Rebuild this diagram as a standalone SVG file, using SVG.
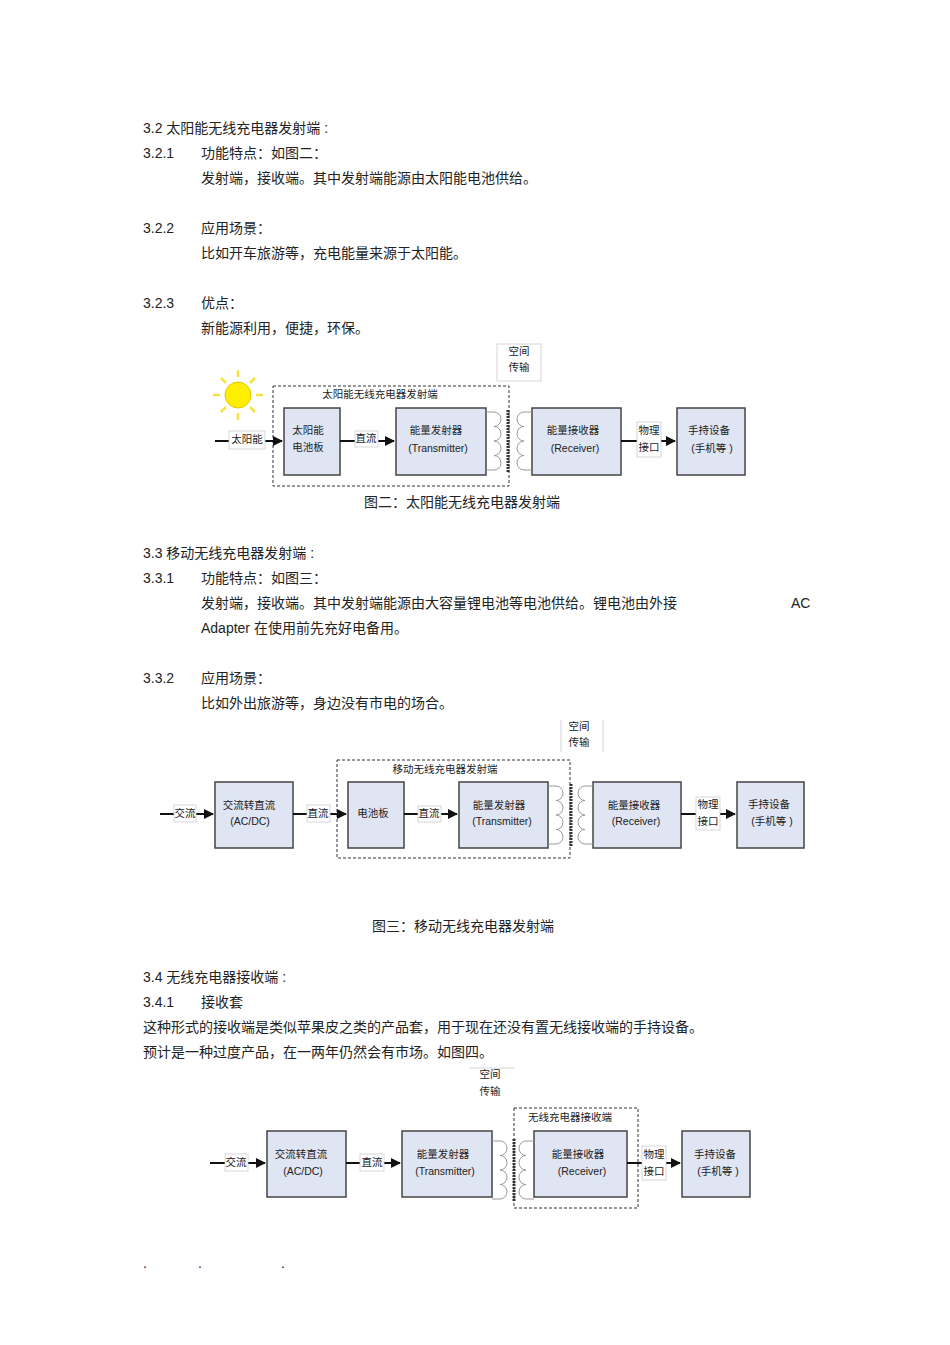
<svg xmlns="http://www.w3.org/2000/svg" xmlns:xlink="http://www.w3.org/1999/xlink" width="950" height="1345" viewBox="0 0 950 1345">
<style>
text{font-family:"Liberation Sans","Noto Sans CJK SC",sans-serif;fill:#222}
.b{font-size:14px}
.s{font-size:10.5px;text-anchor:middle}
.box{fill:#dfe5f2;stroke:#444;stroke-width:1.5}
.dash{fill:none;stroke:#333;stroke-width:1;stroke-dasharray:3,2}
.lbl{fill:#fff;stroke:#ccc;stroke-width:0.8}
.ln{stroke:#111;stroke-width:2;fill:none}
.coil{fill:none;stroke:#999;stroke-width:1}
.core{stroke:#333;stroke-width:3;stroke-dasharray:2,1}
.thin{stroke:#ccc;stroke-width:0.8;fill:none}
</style>
<defs>
<marker id="ar" viewBox="0 0 10 10" refX="9" refY="5" markerWidth="5" markerHeight="5" orient="auto"><path d="M0,0L10,5L0,10z" fill="#111"/></marker>
<path id="coil" class="coil" d="M0,0H8a7,7.25 0 0 1 0,14.5a7,7.25 0 0 1 0,14.5a7,7.25 0 0 1 0,14.5a7,7.25 0 0 1 0,14.5H0"/>
</defs>

<g id="body">
<text class="b" x="143" y="133">3.2  太阳能无线充电器发射端      :</text>
<text class="b" x="143" y="158">3.2.1</text><text class="b" x="201" y="158">功能特点：如图二：</text>
<text class="b" x="201" y="183">发射端，接收端。其中发射端能源由太阳能电池供给。</text>
<text class="b" x="143" y="233">3.2.2</text><text class="b" x="201" y="233">应用场景：</text>
<text class="b" x="201" y="258">比如开车旅游等，充电能量来源于太阳能。</text>
<text class="b" x="143" y="308">3.2.3</text><text class="b" x="201" y="308">优点：</text>
<text class="b" x="201" y="333">新能源利用，便捷，环保。</text>
<text class="b" x="462" y="507" text-anchor="middle">图二：太阳能无线充电器发射端</text>
<text class="b" x="143" y="558">3.3  移动无线充电器发射端      :</text>
<text class="b" x="143" y="583">3.3.1</text><text class="b" x="201" y="583">功能特点：如图三：</text>
<text class="b" x="201" y="608">发射端，接收端。其中发射端能源由大容量锂电池等电池供给。锂电池由外接</text>
<text class="b" x="791" y="608">AC</text>
<text class="b" x="201" y="633">Adapter   在使用前先充好电备用。</text>
<text class="b" x="143" y="683">3.3.2</text><text class="b" x="201" y="683">应用场景：</text>
<text class="b" x="201" y="708">比如外出旅游等，身边没有市电的场合。</text>
<text class="b" x="463" y="931" text-anchor="middle">图三：移动无线充电器发射端</text>
<text class="b" x="143" y="982">3.4  无线充电器接收端      :</text>
<text class="b" x="143" y="1007">3.4.1</text><text class="b" x="201" y="1007">接收套</text>
<text class="b" x="143" y="1032">这种形式的接收端是类似苹果皮之类的产品套，用于现在还没有置无线接收端的手持设备。</text>
<text class="b" x="143" y="1057">预计是一种过度产品，在一两年仍然会有市场。如图四。</text>
<text class="b" x="143" y="1268">.</text><text class="b" x="198" y="1268">.</text><text class="b" x="281" y="1268">.</text>
</g>

<!-- Diagram 1 -->
<g id="sun" stroke="#f5e23a" stroke-width="2.5">
<circle cx="238" cy="395" r="13" fill="#ffee00" stroke="#e6c800" stroke-width="1"/>
<line x1="238" y1="370" x2="238" y2="377"/><line x1="238" y1="413" x2="238" y2="420"/>
<line x1="213" y1="395" x2="220" y2="395"/><line x1="256" y1="395" x2="263" y2="395"/>
<line x1="221" y1="378" x2="226" y2="383"/><line x1="250" y1="407" x2="255" y2="412"/>
<line x1="221" y1="412" x2="226" y2="407"/><line x1="250" y1="383" x2="255" y2="378"/>
</g>
<g id="d1-group"><rect class="dash" x="273" y="386" width="236" height="100"/><text class="s" x="380" y="398">太阳能无线充电器发射端</text></g>
<g id="d1-air"><rect class="lbl" x="497" y="344" width="44" height="37"/><text class="s" x="519" y="355">空间</text><text class="s" x="519" y="371">传输</text></g>
<g id="d1-panel"><rect class="box" x="284" y="408" width="56" height="67"/><text class="s" x="308" y="434">太阳能</text><text class="s" x="308" y="451">电池板</text></g>
<g id="d1-tx"><rect class="box" x="396" y="408" width="90" height="67"/><text class="s" x="436" y="434">能量发射器</text><text class="s" x="438" y="452">(Transmitter)</text></g>
<g id="d1-rx"><rect class="box" x="532" y="408" width="89" height="67"/><text class="s" x="573" y="434">能量接收器</text><text class="s" x="575" y="452">(Receiver)</text></g>
<g id="d1-dev"><rect class="box" x="677" y="408" width="68" height="67"/><text class="s" x="709" y="434">手持设备</text><text class="s" x="712" y="452">(手机等  )</text></g>
<g id="d1-conn">
<line class="ln" x1="215" y1="441" x2="282" y2="441" marker-end="url(#ar)"/>
<line class="ln" x1="340" y1="441" x2="394" y2="441" marker-end="url(#ar)"/>
<line class="ln" x1="621" y1="441" x2="675" y2="441" marker-end="url(#ar)"/>
<use href="#coil" x="486" y="412"/>
<use href="#coil" transform="translate(532,412) scale(-1,1)"/>
<line class="core" x1="508" y1="410" x2="508" y2="473"/>
<rect class="lbl" x="229" y="431" width="36" height="18"/><text class="s" x="247" y="443">太阳能</text>
<rect class="lbl" x="355" y="431" width="23" height="16" stroke="none"/><text class="s" x="366" y="442">直流</text>
<rect class="lbl" x="637" y="422" width="24" height="35"/><text class="s" x="649" y="434">物理</text><text class="s" x="649" y="451">接口</text>
</g>

<!-- Diagram 2 -->
<g id="d2-group"><rect class="dash" x="337" y="760" width="233" height="98"/><text class="s" x="445" y="773">移动无线充电器发射端</text></g>
<g id="d2-air"><line class="thin" x1="561" y1="720" x2="561" y2="752"/><line class="thin" x1="603" y1="720" x2="603" y2="752"/><text class="s" x="579" y="730">空间</text><text class="s" x="579" y="746">传输</text></g>
<g id="d2-acdc"><rect class="box" x="215" y="782" width="78" height="66"/><text class="s" x="249" y="809">交流转直流</text><text class="s" x="250" y="825">(AC/DC)</text></g>
<g id="d2-bat"><rect class="box" x="348" y="782" width="56" height="66"/><text class="s" x="373" y="817">电池板</text></g>
<g id="d2-tx"><rect class="box" x="459" y="782" width="89" height="66"/><text class="s" x="499" y="809">能量发射器</text><text class="s" x="502" y="825">(Transmitter)</text></g>
<g id="d2-rx"><rect class="box" x="593" y="782" width="88" height="66"/><text class="s" x="634" y="809">能量接收器</text><text class="s" x="636" y="825">(Receiver)</text></g>
<g id="d2-dev"><rect class="box" x="737" y="782" width="67" height="66"/><text class="s" x="769" y="808">手持设备</text><text class="s" x="772" y="825">(手机等  )</text></g>
<g id="d2-conn">
<line class="ln" x1="160" y1="814" x2="213" y2="814" marker-end="url(#ar)"/>
<line class="ln" x1="293" y1="814" x2="346" y2="814" marker-end="url(#ar)"/>
<line class="ln" x1="404" y1="814" x2="457" y2="814" marker-end="url(#ar)"/>
<line class="ln" x1="681" y1="814" x2="735" y2="814" marker-end="url(#ar)"/>
<use href="#coil" x="548" y="786"/>
<use href="#coil" transform="translate(593,786) scale(-1,1)"/>
<line class="core" x1="571" y1="784" x2="571" y2="847"/>
<rect class="lbl" x="174" y="805" width="22" height="17"/><text class="s" x="185" y="817">交流</text>
<rect class="lbl" x="307" y="805" width="23" height="17"/><text class="s" x="318" y="817">直流</text>
<rect class="lbl" x="418" y="806" width="23" height="16" stroke="none"/><text class="s" x="429" y="817">直流</text>
<rect class="lbl" x="696" y="797" width="24" height="33"/><text class="s" x="708" y="808">物理</text><text class="s" x="708" y="825">接口</text>
</g>

<!-- Diagram 3 -->
<g id="d3-air"><line class="thin" x1="469" y1="1068" x2="515" y2="1068"/><text class="s" x="490" y="1078">空间</text><text class="s" x="490" y="1095">传输</text></g>
<g id="d3-group"><rect class="dash" x="514" y="1108" width="124" height="100"/><text class="s" x="570" y="1121">无线充电器接收端</text></g>
<g id="d3-acdc"><rect class="box" x="267" y="1131" width="79" height="66"/><text class="s" x="301" y="1158">交流转直流</text><text class="s" x="303" y="1175">(AC/DC)</text></g>
<g id="d3-tx"><rect class="box" x="402" y="1131" width="90" height="66"/><text class="s" x="443" y="1158">能量发射器</text><text class="s" x="445" y="1175">(Transmitter)</text></g>
<g id="d3-rx"><rect class="box" x="534" y="1131" width="93" height="66"/><text class="s" x="578" y="1158">能量接收器</text><text class="s" x="582" y="1175">(Receiver)</text></g>
<g id="d3-dev"><rect class="box" x="682" y="1131" width="68" height="66"/><text class="s" x="715" y="1158">手持设备</text><text class="s" x="718" y="1175">(手机等  )</text></g>
<g id="d3-conn">
<line class="ln" x1="210" y1="1163" x2="265" y2="1163" marker-end="url(#ar)"/>
<line class="ln" x1="346" y1="1163" x2="400" y2="1163" marker-end="url(#ar)"/>
<line class="ln" x1="627" y1="1163" x2="680" y2="1163" marker-end="url(#ar)"/>
<use href="#coil" x="492" y="1141"/>
<use href="#coil" transform="translate(534,1141) scale(-1,1)"/>
<line class="core" x1="514" y1="1139" x2="514" y2="1202"/>
<rect class="lbl" x="225" y="1154" width="23" height="17"/><text class="s" x="236" y="1166">交流</text>
<rect class="lbl" x="360" y="1154" width="24" height="17"/><text class="s" x="372" y="1166">直流</text>
<rect class="lbl" x="642" y="1146" width="24" height="34"/><text class="s" x="654" y="1158">物理</text><text class="s" x="654" y="1175">接口</text>
</g>
</svg>
